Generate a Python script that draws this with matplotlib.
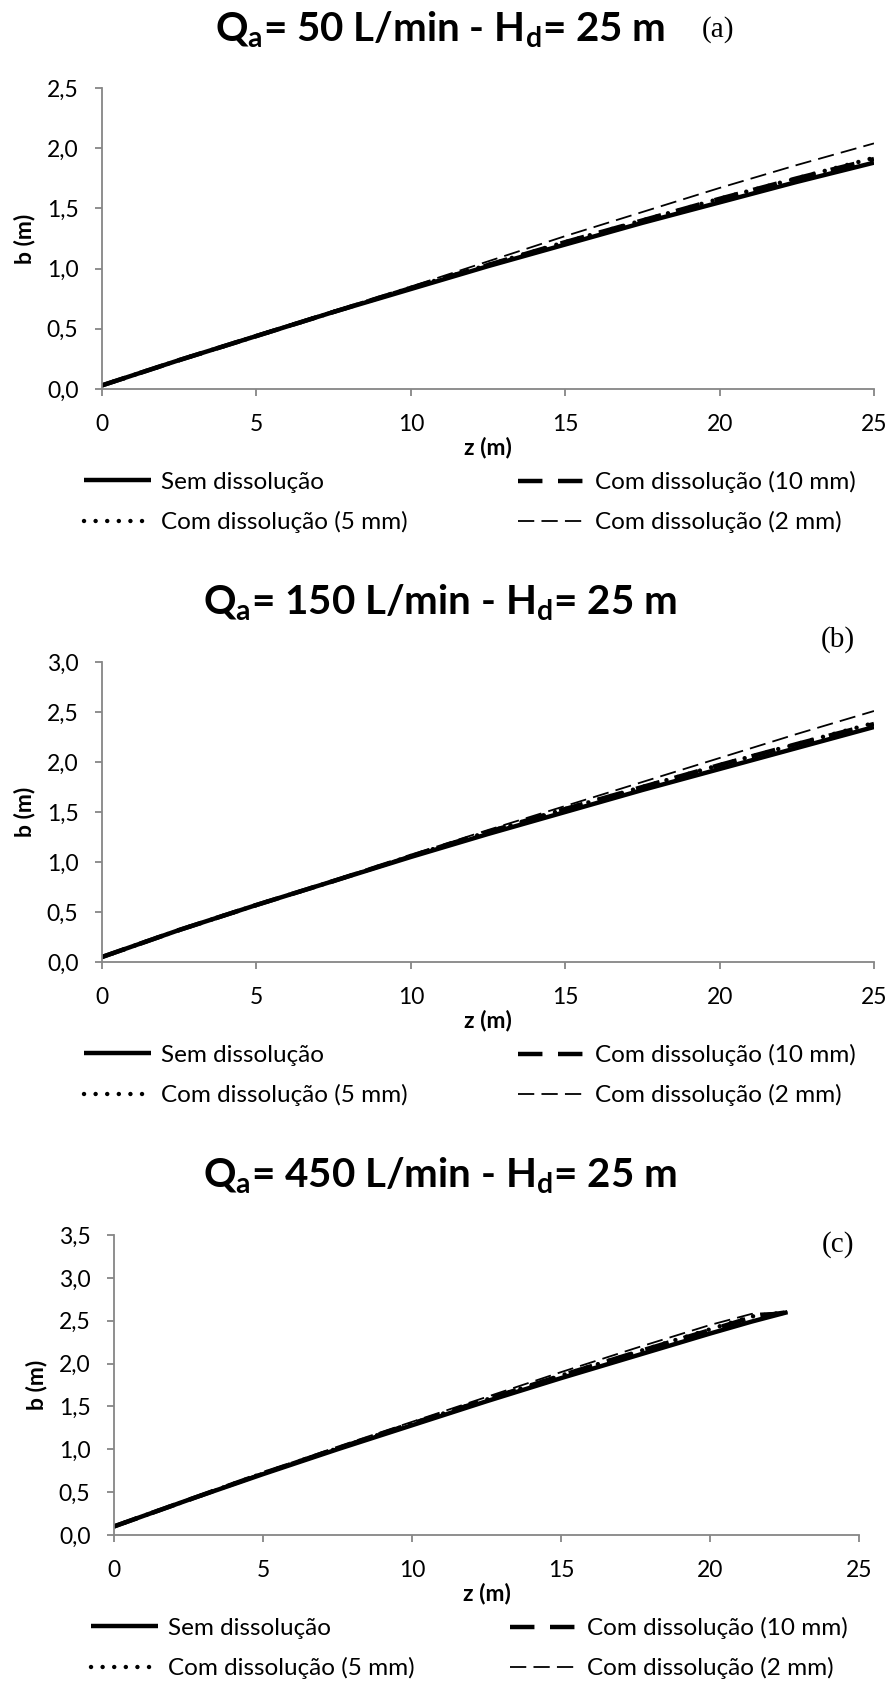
import matplotlib
matplotlib.use("Agg")
import matplotlib.pyplot as plt
from matplotlib.ticker import FuncFormatter, MultipleLocator

plt.rcParams['font.family'] = ['Lato', 'DejaVu Sans']
plt.rcParams['mathtext.fontset'] = 'custom'
plt.rcParams['mathtext.rm'] = 'Lato'
plt.rcParams['mathtext.bf'] = 'Lato:bold'

# dados
z_ab = [0, 2.5, 5, 7.5, 10, 12.5, 15, 17.5, 20, 22.5, 25]
sem_a = [0.03, 0.24, 0.44, 0.64, 0.83, 1.02, 1.20, 1.38, 1.55, 1.72, 1.88]
d10_a = [0.03, 0.24, 0.44, 0.64, 0.84, 1.03, 1.22, 1.40, 1.58, 1.75, 1.91]
d5_a = [0.03, 0.24, 0.44, 0.64, 0.84, 1.03, 1.22, 1.40, 1.58, 1.75, 1.92]
d2_a = [0.03, 0.24, 0.45, 0.65, 0.85, 1.06, 1.27, 1.47, 1.67, 1.86, 2.04]

sem_b = [0.05, 0.32, 0.57, 0.81, 1.05, 1.28, 1.50, 1.72, 1.93, 2.14, 2.35]
d10_b = [0.05, 0.32, 0.57, 0.81, 1.06, 1.30, 1.53, 1.75, 1.97, 2.18, 2.38]
d5_b = [0.05, 0.32, 0.57, 0.81, 1.06, 1.30, 1.53, 1.75, 1.97, 2.18, 2.39]
d2_b = [0.05, 0.32, 0.57, 0.82, 1.07, 1.32, 1.56, 1.80, 2.04, 2.28, 2.51]

z_c = [0, 2.5, 5, 7.5, 10, 12.5, 15, 17.5, 20, 21.4, 22.6]
sem_c = [0.10, 0.41, 0.71, 1.00, 1.28, 1.56, 1.83, 2.09, 2.35, 2.49, 2.60]
d10_c = [0.10, 0.41, 0.72, 1.01, 1.30, 1.58, 1.86, 2.13, 2.39, 2.54, 2.60]
d5_c = [0.10, 0.41, 0.72, 1.01, 1.30, 1.58, 1.86, 2.13, 2.40, 2.55, 2.60]
d2_c = [0.10, 0.42, 0.73, 1.03, 1.32, 1.61, 1.90, 2.18, 2.45, 2.58, 2.60]

vazoes = ['50', '150', '450']
letras = ['(a)', '(b)', '(c)']
ymax = [2.5, 3.0, 3.5]
labels = ['Sem dissolução', 'Com dissolução (10 mm)',
          'Com dissolução (5 mm)', 'Com dissolução (2 mm)']

series = [
    (z_ab, [sem_a, d10_a, d5_a, d2_a]),
    (z_ab, [sem_b, d10_b, d5_b, d2_b]),
    (z_c, [sem_c, d10_c, d5_c, d2_c]),
]

W, H = 893, 1686
fig = plt.figure(figsize=(W / 100, H / 100), dpi=100)

# caixas em pixels: esquerda, direita, topo, base
boxes = [(102, 874, 88, 389), (102, 874, 662, 962), (114, 859, 1235, 1535)]
title_y = [30, 603, 1176]
letra_pos = [(718, 30), (838, 640), (838, 1245)]
# posicao x do inicio da legenda (coluna esquerda, coluna direita)
leg_x = [(84, 518), (84, 518), (91, 510)]

estilos = [
    dict(color='black', lw=3.2, ls='-'),
    dict(color='black', lw=3.2, ls=(0, (5.5, 3.5))),
    dict(color='black', lw=3.2, ls=(0, (0.01, 2.6)), dash_capstyle='round'),
    dict(color='black', lw=1.3, ls=(0, (9, 4))),
]

cinza = '#868686'
fs = 16.5
fs_leg = 17.5
fmt = FuncFormatter(lambda v, p: f'{v:.1f}'.replace('.', ','))

for i in range(3):
    l, r, t, b = boxes[i]
    ax = fig.add_axes([l / W, 1 - b / H, (r - l) / W, (b - t) / H])
    z, ys = series[i]
    linhas = []
    for y, st in zip(ys, estilos):
        ln, = ax.plot(z, y, solid_capstyle='butt', **st)
        linhas.append(ln)
    ax.set_xlim(0, 25)
    ax.set_ylim(0, ymax[i])
    ax.xaxis.set_major_locator(MultipleLocator(5))
    ax.yaxis.set_major_locator(MultipleLocator(0.5))
    ax.yaxis.set_major_formatter(fmt)
    for s in ['top', 'right']:
        ax.spines[s].set_visible(False)
    for s in ['left', 'bottom']:
        ax.spines[s].set_color(cinza)
        ax.spines[s].set_linewidth(1.3)
    ax.tick_params(axis='both', direction='out', length=5, width=1.3,
                   color=cinza, labelsize=fs, labelcolor='black')
    ax.tick_params(axis='x', pad=13)
    ax.tick_params(axis='y', pad=12)
    ax.set_xlabel('z (m)', fontsize=fs, fontweight='bold', labelpad=1)
    ax.set_ylabel('b (m)', fontsize=fs, fontweight='bold', labelpad=8)

    fig.text(440 / W, 1 - title_y[i] / H,
             'Q$_\\mathbf{a}$= ' + vazoes[i] + ' L/min - H$_\\mathbf{d}$= 25 m',
             fontsize=29, fontweight='bold', ha='center', va='center')
    lx, ly = letra_pos[i]
    fig.text(lx / W, 1 - ly / H, letras[i], fontsize=21,
             family='Liberation Serif', ha='center', va='center')

    kw = dict(loc='center left', frameon=False, fontsize=fs_leg, borderpad=0,
              borderaxespad=0, handlelength=2.76, handletextpad=0.41)
    xe, xd = leg_x[i]
    for k, (xx, yy) in enumerate([(xe, b + 93), (xd, b + 93),
                                  (xe, b + 133), (xd, b + 133)]):
        fig.legend([linhas[k]], [labels[k]],
                   bbox_to_anchor=(xx / W, 1 - yy / H), **kw)

fig.savefig('out.png', dpi=100)
